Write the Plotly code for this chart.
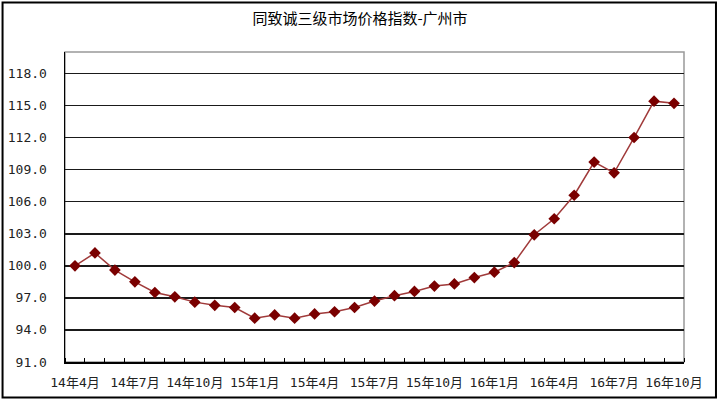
import plotly.graph_objects as go

title_text = "同致诚三级市场价格指数-广州市"
months = [
    "14年4月", "14年5月", "14年6月", "14年7月", "14年8月", "14年9月",
    "14年10月", "14年11月", "14年12月", "15年1月", "15年2月", "15年3月",
    "15年4月", "15年5月", "15年6月", "15年7月", "15年8月", "15年9月",
    "15年10月", "15年11月", "15年12月", "16年1月", "16年2月", "16年3月",
    "16年4月", "16年5月", "16年6月", "16年7月", "16年8月", "16年9月",
    "16年10月",
]
values = [
    100.0, 101.2, 99.6, 98.5, 97.5, 97.1, 96.6, 96.3, 96.1, 95.1,
    95.4, 95.1, 95.5, 95.7, 96.1, 96.7, 97.2, 97.6, 98.1, 98.3,
    98.9, 99.4, 100.3, 102.9, 104.4, 106.6, 109.7, 108.7, 112.0, 115.4,
    115.2,
]
y_ticks = [91.0, 94.0, 97.0, 100.0, 103.0, 106.0, 109.0, 112.0, 115.0, 118.0]
y_range = [91.0, 120.0]

W, H = 720, 401
ML, MR, MT, MB = 65, 35.5, 52, 39
pw = W - ML - MR
ph = H - MT - MB

idx = list(range(len(months)))
label_idx = idx[::3]

fig = go.Figure()
fig.add_trace(go.Scatter(
    x=idx, y=values, mode="lines+markers",
    line=dict(color="#a03a3a", width=1.5),
    marker=dict(symbol="diamond", size=9, color="#7a0000"),
    hoverinfo="skip", showlegend=False,
))

font_fam = "DejaVu Sans Mono, Noto Sans CJK SC, sans-serif"

fig.update_layout(
    width=W, height=H,
    margin=dict(l=ML, r=MR, t=MT, b=MB, pad=0, autoexpand=False),
    paper_bgcolor="white", plot_bgcolor="white",
    title=dict(text=title_text, x=0.5, xanchor="center", y=1 - 19 / H, yanchor="middle",
               font=dict(family="Noto Sans CJK SC, sans-serif", size=15, color="black")),
    xaxis=dict(
        range=[-0.5, len(months) - 0.5], showgrid=False, zeroline=False,
        tickvals=label_idx, ticktext=[months[i] for i in label_idx],
        ticks="", showline=True, linecolor="black", linewidth=1.5,
        tickfont=dict(family=font_fam, size=13, color="#222"),
        ticklabelstandoff=8, automargin=False,
        minor=dict(tickvals=[i - 0.5 for i in idx] + [len(months) - 0.5],
                   ticks="inside", ticklen=4, tickcolor="black", tickwidth=1),
    ),
    yaxis=dict(
        range=y_range, tickvals=y_ticks, ticktext=[f"{v:.1f}" for v in y_ticks],
        showgrid=True, gridcolor="#1a1a1a", gridwidth=1.6, zeroline=False,
        showline=True, linecolor="black", linewidth=1.5, ticks="",
        tickfont=dict(family=font_fam, size=13, color="#222"),
        ticklabelstandoff=14, automargin=False,
    ),
    shapes=[
        dict(type="rect", xref="paper", yref="paper", x0=0, x1=1, y0=0, y1=1,
             line=dict(color="#999999", width=1.5), layer="below"),
        dict(type="rect", xref="paper", yref="paper",
             x0=(2.5 - ML) / pw, x1=(W - 3.5 - ML) / pw,
             y0=(H - MB - (H - 3.5)) / ph, y1=(H - MB - 2.5) / ph,
             line=dict(color="black", width=2), layer="above"),
    ],
)

fig.write_html("out.html", config={"displayModeBar": False, "staticPlot": True},
               post_script="document.body.style.margin='0';document.body.style.overflow='hidden';")
